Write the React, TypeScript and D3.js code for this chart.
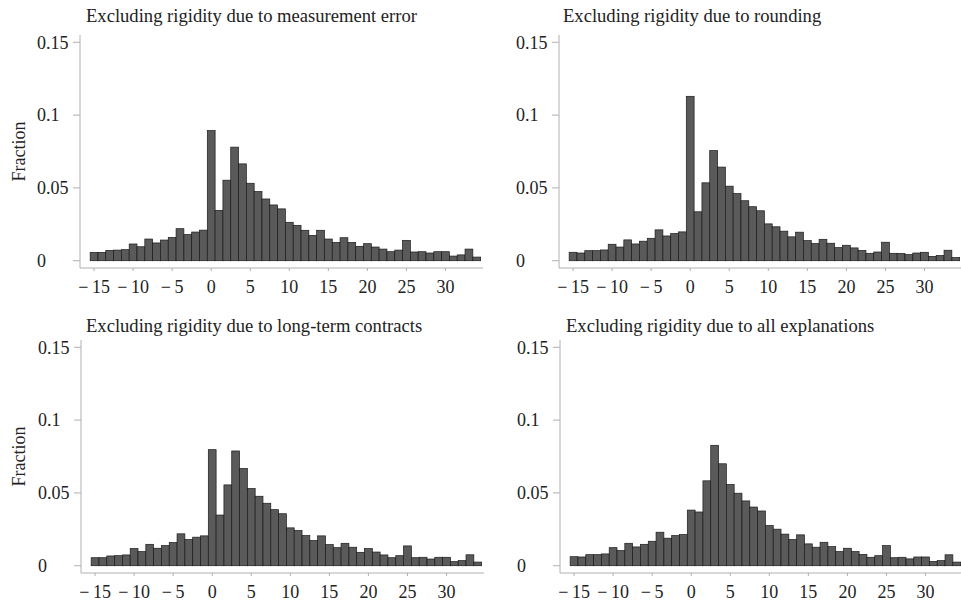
import React, { useEffect, useRef } from "react";
import * as d3 from "d3";

// price change bins (percent), one bar per integer
const bins = d3.range(-15, 35);

const titles = [
  "Excluding rigidity due to measurement error",
  "Excluding rigidity due to rounding",
  "Excluding rigidity due to long-term contracts",
  "Excluding rigidity due to all explanations",
];

const measurementError = [
  0.0057, 0.0057, 0.0071, 0.0073, 0.0076, 0.0115, 0.0096, 0.0149, 0.0122, 0.0142,
  0.016, 0.022, 0.018, 0.0197, 0.021, 0.0894, 0.0346, 0.0553, 0.078, 0.0665,
  0.0532, 0.0475, 0.0424, 0.0383, 0.0356, 0.0264, 0.0243, 0.0209, 0.0174, 0.0209,
  0.0149, 0.0126, 0.0158, 0.0126, 0.0099, 0.0117, 0.0094, 0.008, 0.0062, 0.0073,
  0.014, 0.006, 0.0062, 0.0053, 0.0062, 0.0062, 0.0032, 0.004, 0.008, 0.0025,
];

const rounding = [
  0.0058, 0.0053, 0.0069, 0.0069, 0.0074, 0.0113, 0.0094, 0.0143, 0.0115, 0.0134,
  0.0154, 0.0212, 0.017, 0.0187, 0.0198, 0.1129, 0.0336, 0.0535, 0.0756, 0.0643,
  0.0512, 0.0461, 0.0412, 0.0371, 0.0343, 0.0253, 0.0233, 0.0203, 0.0164, 0.0196,
  0.0138, 0.0118, 0.0147, 0.012, 0.009, 0.0106, 0.0088, 0.0071, 0.0051, 0.006,
  0.0127, 0.0051, 0.005, 0.0042, 0.0053, 0.0058, 0.003, 0.0036, 0.0072, 0.0022,
];

const longTerm = [
  0.0055, 0.0055, 0.0067, 0.0069, 0.0074, 0.0118, 0.0097, 0.0147, 0.012, 0.0138,
  0.0159, 0.0219, 0.018, 0.0196, 0.0205, 0.0797, 0.0348, 0.0555, 0.0788, 0.0668,
  0.053, 0.0477, 0.0429, 0.0385, 0.0357, 0.026, 0.0242, 0.0207, 0.0173, 0.0205,
  0.0145, 0.0124, 0.0154, 0.0127, 0.0092, 0.0118, 0.0094, 0.0074, 0.0055, 0.0069,
  0.0136, 0.0055, 0.0058, 0.0046, 0.0058, 0.0058, 0.0028, 0.0035, 0.0075, 0.0025,
];

const allExplanations = [
  0.0062, 0.006, 0.0076, 0.0076, 0.0081, 0.0124, 0.0104, 0.0154, 0.0129, 0.0147,
  0.0168, 0.023, 0.0189, 0.0207, 0.0214, 0.0382, 0.0369, 0.0583, 0.0827, 0.07,
  0.0558, 0.0498, 0.0445, 0.0403, 0.0376, 0.0276, 0.0251, 0.0217, 0.018, 0.0212,
  0.015, 0.0127, 0.0161, 0.0131, 0.0097, 0.012, 0.0097, 0.0078, 0.0058, 0.0069,
  0.0138, 0.0055, 0.0058, 0.0047, 0.006, 0.006, 0.003, 0.0035, 0.0075, 0.0025,
];

const series = [measurementError, rounding, longTerm, allExplanations];

const xTicks = [-15, -10, -5, 0, 5, 10, 15, 20, 25, 30];
const yTicks = [0, 0.05, 0.1, 0.15];
const yTickLabels = ["0", "0.05", "0.1", "0.15"];

// panel layout: y-axis position, top of plot, title placement
const layout = [
  { left: 80, top: 35, titleX: 86, titleY: 22, yLabel: true },
  { left: 559, top: 35, titleX: 563, titleY: 22, yLabel: false },
  { left: 81, top: 340, titleX: 86, titleY: 332, yLabel: true },
  { left: 560, top: 340, titleX: 566, titleY: 332, yLabel: false },
];

const FONT = "'Liberation Serif', 'DejaVu Serif', serif";

function App() {
  const svgRef = useRef(null);

  useEffect(() => {
    const svg = d3.select(svgRef.current);
    svg.selectAll("*").remove();
    const plotW = 403;
    const plotH = 233;

    layout.forEach((p, i) => {
      const g = svg.append("g");
      const x = d3.scaleLinear().domain([-16.8, 34.8]).range([p.left, p.left + plotW]);
      const y = d3.scaleLinear().domain([-0.005, 0.155]).range([p.top + plotH, p.top]);
      const data = series[i].map((v, k) => ({ bin: bins[k], v }));

      // bars
      g.selectAll("rect")
        .data(data)
        .enter()
        .append("rect")
        .attr("x", (d) => x(d.bin - 0.5))
        .attr("width", (d) => x(d.bin + 0.5) - x(d.bin - 0.5))
        .attr("y", (d) => y(d.v))
        .attr("height", (d) => y(0) - y(d.v))
        .style("fill", "#5a5a5a")
        .style("stroke", "#1a1a1a")
        .style("stroke-width", 0.7);

      // axis lines
      g.append("line")
        .attr("x1", p.left).attr("x2", p.left)
        .attr("y1", p.top).attr("y2", p.top + plotH)
        .style("stroke", "#b0b0b0").style("stroke-width", 1);
      g.append("line")
        .attr("x1", p.left).attr("x2", p.left + plotW)
        .attr("y1", p.top + plotH).attr("y2", p.top + plotH)
        .style("stroke", "#b0b0b0").style("stroke-width", 1);

      // y ticks
      yTicks.forEach((t, k) => {
        g.append("line")
          .attr("x1", p.left - 7).attr("x2", p.left)
          .attr("y1", y(t)).attr("y2", y(t))
          .style("stroke", "#b0b0b0");
        g.append("text")
          .attr("x", p.left - 43)
          .attr("y", y(t))
          .attr("dy", "0.35em")
          .style("font-family", FONT)
          .style("font-size", "18px")
          .style("fill", "#222")
          .text(yTickLabels[k]);
      });

      // x ticks
      xTicks.forEach((t) => {
        g.append("line")
          .attr("x1", x(t)).attr("x2", x(t))
          .attr("y1", p.top + plotH).attr("y2", p.top + plotH + 3)
          .style("stroke", "#b0b0b0");
        g.append("text")
          .attr("x", x(t))
          .attr("y", p.top + plotH + 25)
          .attr("text-anchor", "middle")
          .style("font-family", FONT)
          .style("font-size", "18px")
          .style("fill", "#222")
          .text(t < 0 ? "\u2212\u2009" + Math.abs(t) : String(t));
      });

      // title
      g.append("text")
        .attr("x", p.titleX)
        .attr("y", p.titleY)
        .style("font-family", FONT)
        .style("font-size", "18.6px")
        .style("fill", "#222")
        .text(titles[i]);

      // y label
      if (p.yLabel) {
        g.append("text")
          .attr("transform", `translate(19,${y(0.075)}) rotate(-90)`)
          .attr("text-anchor", "middle")
          .attr("dy", "0.35em")
          .style("font-family", FONT)
          .style("font-size", "18px")
          .style("fill", "#222")
          .text("Fraction");
      }
    });
  }, []);

  return (
    <div>
      <svg
        ref={svgRef}
        width={961}
        height={602}
        style={{ position: "absolute", left: 0, top: 0, background: "#fff" }}
      ></svg>
    </div>
  );
}

export default App;
